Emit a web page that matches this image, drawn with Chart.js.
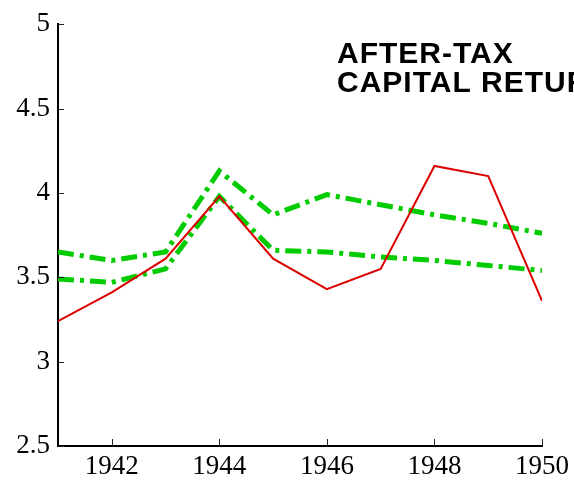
<!DOCTYPE html>
<html>
<head>
<meta charset="utf-8">
<script src="https://cdn.jsdelivr.net/npm/chart.js@4"></script>
<style>
  html, body { margin: 0; padding: 0; background: #fff; }
  #wrap { width: 574px; height: 482px; }
</style>
</head>
<body>
<div id="wrap"><canvas id="chart"></canvas></div>
<script>
const years = [1941, 1942, 1943, 1944, 1945, 1946, 1947, 1948, 1949, 1950];
const redSeries = [3.24, 3.41, 3.61, 3.98, 3.61, 3.43, 3.55, 4.16, 4.10, 3.36];
const greenUpper = [3.65, 3.60, 3.65, 4.13, 3.87, 3.99, 3.93, 3.87, 3.82, 3.76];
const greenLower = [3.49, 3.47, 3.55, 3.98, 3.66, 3.65, 3.62, 3.60, 3.57, 3.54];
const xTicks = [1942, 1944, 1946, 1948, 1950];
const yTicks = [2.5, 3, 3.5, 4, 4.5, 5];
const titleLines = ["AFTER-TAX", "CAPITAL RETURN"];

const toPoints = (vals) => vals.map((v, i) => ({ x: years[i], y: v }));

// inward tick marks + title text
const extras = {
    id: "extras",
    afterDraw(chart) {
        const ctx = chart.ctx;
        const xs = chart.scales.x, ys = chart.scales.y;
        const area = chart.chartArea;
        ctx.save();
        ctx.strokeStyle = "#222";
        ctx.lineWidth = 1;
        ctx.beginPath();
        for (const t of yTicks) {
            const py = Math.round(ys.getPixelForValue(t)) + 0.5;
            ctx.moveTo(area.left, py);
            ctx.lineTo(area.left + 6, py);
        }
        for (const t of xTicks) {
            const px = Math.round(xs.getPixelForValue(t)) + 0.5;
            ctx.moveTo(px, area.bottom);
            ctx.lineTo(px, area.bottom - 7);
        }
        ctx.stroke();

        ctx.fillStyle = "#000";
        ctx.font = "bold 30px 'Liberation Sans', Arial, sans-serif";
        ctx.letterSpacing = "1px";
        ctx.textBaseline = "alphabetic";
        ctx.textAlign = "left";
        titleLines.forEach((line, i) => ctx.fillText(line, 337, 63 + i * 29));
        ctx.restore();
    }
};

const serif = "'Liberation Serif', 'Times New Roman', serif";

new Chart(document.getElementById("chart"), {
    type: "line",
    data: {
        datasets: [
            {
                data: toPoints(redSeries),
                borderColor: "#dd0000",
                borderWidth: 2,
                pointRadius: 0,
                tension: 0
            },
            {
                data: toPoints(greenUpper),
                borderColor: "#00cc00",
                borderWidth: 5,
                borderDash: [16, 6, 4, 6],
                pointRadius: 0,
                tension: 0
            },
            {
                data: toPoints(greenLower),
                borderColor: "#00cc00",
                borderWidth: 5,
                borderDash: [16, 6, 4, 6],
                pointRadius: 0,
                tension: 0
            }
        ]
    },
    options: {
        responsive: true,
        maintainAspectRatio: false,
        animation: false,
        layout: { padding: { top: 20, right: 32, left: 0, bottom: 0 } },
        plugins: { legend: { display: false }, tooltip: { enabled: false } },
        scales: {
            x: {
                type: "linear",
                min: 1941,
                max: 1950,
                afterBuildTicks: (s) => { s.ticks = xTicks.map(v => ({ value: v })); },
                afterFit: (s) => { s.height = 36; },
                grid: { display: false, drawTicks: false },
                border: { display: true, color: "#000", width: 2 },
                ticks: {
                    color: "#000",
                    padding: 5,
                    maxRotation: 0,
                    font: { family: serif, size: 27 },
                    callback: (v) => String(v)
                }
            },
            y: {
                min: 2.5,
                max: 5,
                afterBuildTicks: (s) => { s.ticks = yTicks.map(v => ({ value: v })); },
                afterFit: (s) => { s.width = 58; },
                grid: { display: false, drawTicks: false },
                border: { display: true, color: "#000", width: 2 },
                ticks: {
                    color: "#000",
                    padding: 8,
                    font: { family: serif, size: 27 },
                    callback: (v) => String(v)
                }
            }
        }
    },
    plugins: [extras]
});
</script>
</body>
</html>
